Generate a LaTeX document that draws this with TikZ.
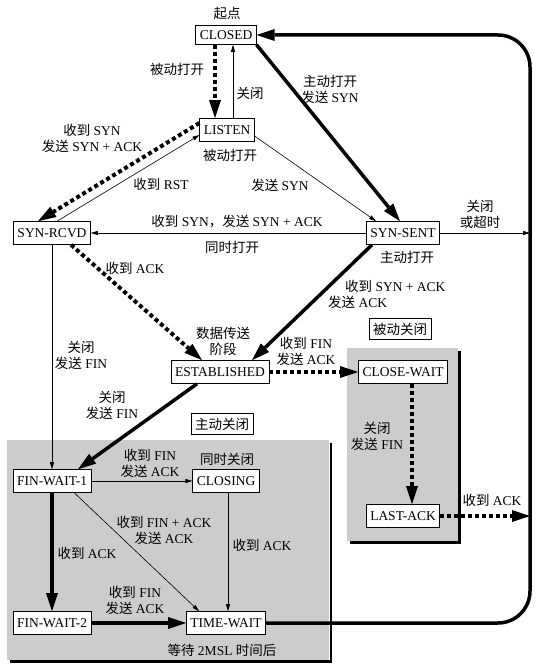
\documentclass[tikz,border=0pt]{standalone}
\usepackage{fontspec}
\setmainfont{Liberation Serif}
\newfontfamily\zhfont{Noto Sans CJK SC}
\newcommand{\zh}[1]{{\zhfont #1}}
\usetikzlibrary{arrows.meta}

\begin{document}
\begin{tikzpicture}[x=1pt, y=-1pt,
    font=\fontsize{13.5}{16}\selectfont,
    state/.style={draw, fill=white, line width=0.6pt, inner xsep=4pt, inner ysep=0pt, minimum height=23pt},
    lbl/.style={align=center, inner sep=1pt},
    thinarrow/.style={line width=0.6pt, -{Triangle[length=7pt,width=4pt]}},
    heavyarrow/.style={line width=3.5pt, -{Triangle[length=18pt,width=12pt,line width=0pt]}},
    dotarrow/.style={line width=4pt, dash pattern=on 4pt off 3pt, -{Triangle[length=18pt,width=12pt,line width=0pt]}}]
    \useasboundingbox (0,0) rectangle (544,671);

    % Shaded regions (active close / passive close)
    \fill[black!20] (7,440) rectangle (329,660);
    \draw[line width=2.5pt] (331,443) -- (331,661.5) -- (10,661.5);
    \fill[black!20] (347,348) rectangle (458,541);
    \draw[line width=2.5pt] (459.5,351) -- (459.5,542.5) -- (350,542.5);

    % States
    \node[state, minimum height=19pt] (closed) at (226,35) {CLOSED};
    \node[state] (listen) at (227,130) {LISTEN};
    \node[state] (synrcvd) at (52,233) {SYN-RCVD};
    \node[state] (synsent) at (403,233) {SYN-SENT};
    \node[state] (estab) at (220,372) {ESTABLISHED};
    \node[state] (closewait) at (403,372) {CLOSE-WAIT};
    \node[state] (lastack) at (403,516) {LAST-ACK};
    \node[state] (finwait1) at (52,481) {FIN-WAIT-1};
    \node[state] (closing) at (226,481) {CLOSING};
    \node[state] (finwait2) at (52,623) {FIN-WAIT-2};
    \node[state] (timewait) at (226,623) {TIME-WAIT};
    \node[state, minimum height=21pt] (passclose) at (400,329) {\zh{被动关闭}};
    \node[state, minimum height=21pt] (actclose) at (222,424) {\zh{主动关闭}};

    % Points on the right-hand return line
    \coordinate (looptop) at (530,35);
    \coordinate (loopbot) at (530,623);
    \coordinate (timeout) at (530,233);
    \coordinate (ackend) at (530,516);

    % Opening
    \draw[dotarrow] ([xshift=-11pt]closed.south) -- ([xshift=-12pt]listen.north);
    \draw[thinarrow] ([xshift=6pt]listen.north) -- ([xshift=7pt]closed.south);
    \draw[heavyarrow] (closed.south east) -- ([xshift=-3pt]synsent.north);
    \draw[dotarrow] ([yshift=7pt]listen.west) -- ([xshift=-14pt]synrcvd.north);
    \draw[thinarrow] ([xshift=5pt]synrcvd.north) -- ([yshift=-5pt]listen.west);
    \draw[thinarrow] ([yshift=-6pt]listen.east) -- ([xshift=10pt]synsent.north west);
    \draw[thinarrow] (synsent.west) -- (synrcvd.east);
    \draw[thinarrow] (synsent.east) -- (timeout);
    \draw[dotarrow] ([xshift=19pt]synrcvd.south) -- ([xshift=-18pt]estab.north);
    \draw[heavyarrow] ([xshift=-31pt]synsent.south) -- ([xshift=32pt]estab.north);

    % Closing
    \draw[thinarrow] (synrcvd.south) -- (finwait1.north);
    \draw[heavyarrow] ([xshift=-23pt]estab.south) -- ([xshift=26pt]finwait1.north);
    \draw[dotarrow] (estab.east) -- (closewait.west);
    \draw[dotarrow] ([xshift=9pt]closewait.south) -- ([xshift=9pt]lastack.north);
    \draw[dotarrow] (lastack.east) -- (ackend);
    \draw[thinarrow] (finwait1.east) -- (closing.west);
    \draw[thinarrow] ([xshift=-17pt]finwait1.south east) -- ([xshift=13pt]timewait.north west);
    \draw[heavyarrow] (finwait1.south) -- (finwait2.north);
    \draw[thinarrow] ([xshift=2pt]closing.south) -- ([xshift=2pt]timewait.north);
    \draw[heavyarrow] (finwait2.east) -- (timewait.west);
    \draw[heavyarrow, rounded corners=32pt] (timewait.east) -- (loopbot) -- (looptop) -- (closed.east);

    % Labels
    \node[lbl] (startlbl) at (227,13) {\zh{起点}};
    \node[lbl] (passopen) at (177,69) {\zh{被动打开}};
    \node[lbl] (closelbl) at (250,93) {\zh{关闭}};
    \node[lbl] (actopen) at (330,89) {\zh{主动打开}\\\zh{发送} SYN};
    \node[lbl] (rcvsyn) at (92,138) {\zh{收到} SYN\\\zh{发送} SYN + ACK};
    \node[lbl] (passopenb) at (230,155) {\zh{被动打开}};
    \node[lbl] (rcvrst) at (161,184) {\zh{收到} RST};
    \node[lbl] (sendsyn) at (280,185) {\zh{发送} SYN};
    \node[lbl] (simsyn) at (237,222) {\zh{收到} SYN\zh{，发送} SYN + ACK};
    \node[lbl] (simopen) at (232,247) {\zh{同时打开}};
    \node[lbl] (timeoutlbl) at (480,214) {\zh{关闭}\\\zh{或超时}};
    \node[lbl] (actopenb) at (407,257) {\zh{主动打开}};
    \node[lbl] (rcvack) at (135,268) {\zh{收到} ACK};
    \node[lbl, align=left, anchor=west] (rcvsynack) at (327,294) {\hspace*{17pt}\zh{收到} SYN + ACK\\\zh{发送} ACK};
    \node[lbl] (datalbl) at (223,341) {\zh{数据传送}\\\zh{阶段}};
    \node[lbl] (closefin) at (81,355) {\zh{关闭}\\\zh{发送} FIN};
    \node[lbl] (rcvfin) at (306,351) {\zh{收到} FIN\\\zh{发送} ACK};
    \node[lbl] (closefinb) at (112,405) {\zh{关闭}\\\zh{发送} FIN};
    \node[lbl] (closefinc) at (377,436) {\zh{关闭}\\\zh{发送} FIN};
    \node[lbl] (rcvackb) at (492,500) {\zh{收到} ACK};
    \node[lbl] (rcvfinb) at (150,463) {\zh{收到} FIN\\\zh{发送} ACK};
    \node[lbl] (simclose) at (227,459) {\zh{同时关闭}};
    \node[lbl] (rcvfinack) at (164,530) {\zh{收到} FIN + ACK\\\zh{发送} ACK};
    \node[lbl] (rcvackc) at (87,553) {\zh{收到} ACK};
    \node[lbl] (rcvackd) at (262,545) {\zh{收到} ACK};
    \node[lbl] (rcvfinc) at (135,600) {\zh{收到} FIN\\\zh{发送} ACK};
    \node[lbl] (waitlbl) at (222,650) {\zh{等待} 2MSL \zh{时间后}};
\end{tikzpicture}
\end{document}
